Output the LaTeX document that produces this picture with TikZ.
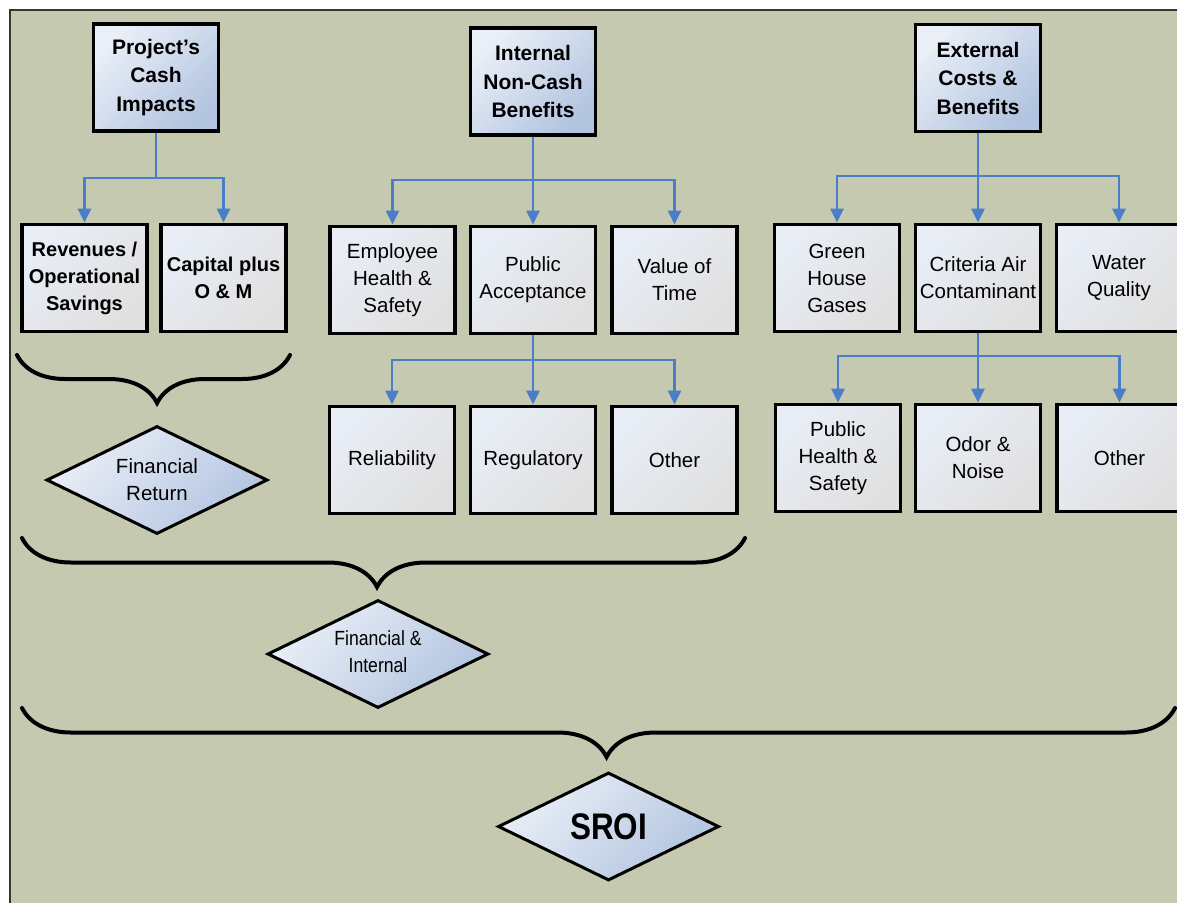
\documentclass[tikz,border=0pt]{standalone}
\usepackage{fontspec}
\setmainfont{Liberation Sans}
\usepackage{graphicx}
\usetikzlibrary{shapes.geometric,arrows.meta,decorations.pathreplacing}

\definecolor{panelbg}{HTML}{C4C9B0}
\definecolor{frameline}{HTML}{3A3628}
\definecolor{headlight}{HTML}{EAEFF7}
\definecolor{headdark}{HTML}{B2C4E0}
\definecolor{sublight}{HTML}{E8EDF6}
\definecolor{subdark}{HTML}{E0E0E0}
\definecolor{linkblue}{HTML}{4A7EC8}

\tikzset{
  headbox/.style={draw=black, line width=3.8pt, minimum width=125pt, minimum height=107pt,
    inner sep=0pt, align=center, top color=headlight, bottom color=headdark, shading angle=45,
    font=\bfseries\fontsize{21}{28.5}\selectfont},
  subbox/.style={draw=black, line width=3.8pt, minimum width=125pt, minimum height=107pt,
    inner sep=0pt, align=center, top color=sublight, bottom color=subdark, shading angle=45,
    font=\fontsize{20.5}{27}\selectfont},
  boldsub/.style={subbox, font=\bfseries\fontsize{20}{27}\selectfont},
  outcome/.style={diamond, aspect=2, draw=black, line width=3pt, minimum width=221pt, minimum height=108pt,
    inner sep=0pt, align=center, top color=headlight, bottom color=headdark, shading angle=45,
    font=\fontsize{20.5}{27}\selectfont},
  link/.style={draw=linkblue, line width=2.5pt, -{Triangle[length=14pt,width=13pt]}},
  bracket/.style={draw=black, line width=4pt, line cap=round, decorate},
}

\begin{document}
\begin{tikzpicture}[x=1pt, y=-1pt]
            \useasboundingbox (0,0) rectangle (1177,903);
            \fill[panelbg] (10,10) rectangle (1177,903);
            \draw[frameline, line width=2pt] (10,903) -- (10,10) -- (1177,10);

            \node[headbox] (cash) at (156,77.5) {Project's\\Cash\\Impacts};
            \node[headbox] (internal) at (533,81.5) {Internal\\Non-Cash\\Benefits};
            \node[headbox] (external) at (978,78) {External\\Costs \&\\Benefits};

            \node[boldsub] (revenue) at (84.5,278) {Revenues /\\Operational\\Savings};
            \node[boldsub] (capital) at (223.5,278) {Capital plus\\O \& M};

            \node[subbox] (employee) at (392.5,280) {Employee\\Health \&\\Safety};
            \node[subbox] (acceptance) at (533,280) {Public\\Acceptance};
            \node[subbox] (timevalue) at (674.5,280) {Value of\\Time};

            \node[subbox] (greenhouse) at (837,278) {Green\\House\\Gases};
            \node[subbox] (aircont) at (978,278) {Criteria Air\\Contaminant};
            \node[subbox] (water) at (1119,278) {Water\\Quality};

            \node[subbox] (reliability) at (392,460) {Reliability};
            \node[subbox] (regulatory) at (533,460) {Regulatory};
            \node[subbox] (otherint) at (674.5,460) {Other};

            \node[subbox] (pubhealth) at (838,458) {Public\\Health \&\\Safety};
            \node[subbox] (odor) at (978,458) {Odor \&\\Noise};
            \node[subbox] (otherext) at (1119.5,458) {Other};

            \draw[link] (cash.south) -- ++(0,45) -| (revenue.north);
            \draw[link] (cash.south) -- ++(0,45) -| (capital.north);

            \draw[link] (internal.south) -- ++(0,43) -| (employee.north);
            \draw[link] (internal.south) -- (acceptance.north);
            \draw[link] (internal.south) -- ++(0,43) -| (timevalue.north);

            \draw[link] (external.south) -- ++(0,42.5) -| (greenhouse.north);
            \draw[link] (external.south) -- (aircont.north);
            \draw[link] (external.south) -- ++(0,42.5) -| (water.north);

            \draw[link] (acceptance.south) -- ++(0,24.5) -| (reliability.north);
            \draw[link] (acceptance.south) -- (regulatory.north);
            \draw[link] (acceptance.south) -- ++(0,24.5) -| (otherint.north);

            \draw[link] (aircont.south) -- ++(0,22.5) -| (pubhealth.north);
            \draw[link] (aircont.south) -- (odor.north);
            \draw[link] (aircont.south) -- ++(0,22.5) -| (otherext.north);

            \coordinate (cashleft) at (17,355);
            \coordinate (cashright) at (290,355);
            \coordinate (midleft) at (22,538);
            \coordinate (midright) at (745,538);
            \coordinate (allleft) at (22,708);
            \coordinate (allright) at (1175,708);

            \draw[bracket, decoration={brace, mirror, amplitude=48pt, aspect=0.513}] (cashleft) -- (cashright);
            \draw[bracket, decoration={brace, mirror, amplitude=49pt, aspect=0.491}] (midleft) -- (midright);
            \draw[bracket, decoration={brace, mirror, amplitude=49pt, aspect=0.507}] (allleft) -- (allright);

            \node[outcome] (finreturn) at (157,480) {Financial\\Return};
            \node[outcome] (fininternal) at (378,654)
              {\scalebox{0.86}[1]{\begin{tabular}{@{}c@{}}Financial \&\\Internal\end{tabular}}};
            \node[outcome] (sroi) at (608.5,826.5)
              {\bfseries\fontsize{37}{40}\selectfont\scalebox{0.85}[1]{SROI}};

        \end{tikzpicture}
\end{document}
